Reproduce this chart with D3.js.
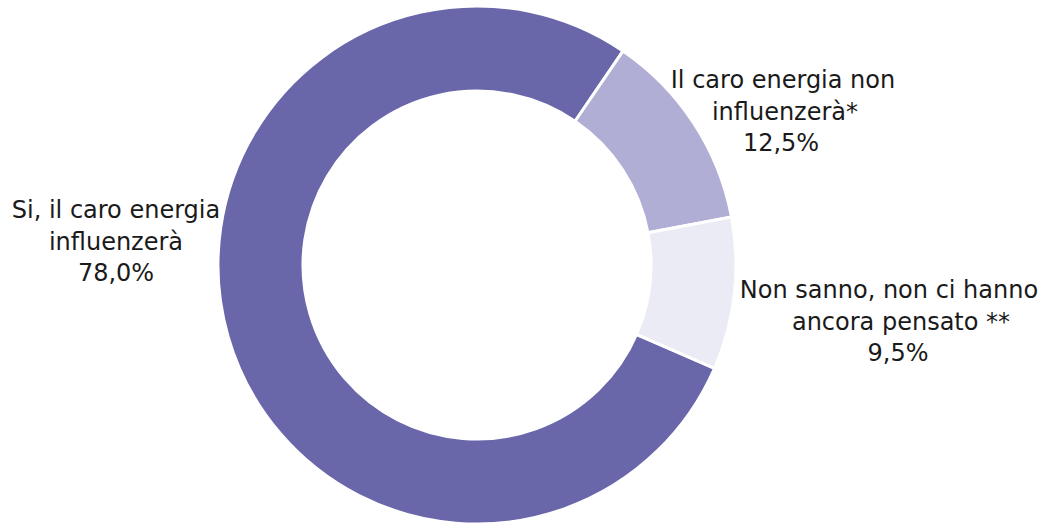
<!DOCTYPE html>
<html>
<head>
<meta charset="utf-8">
<script src="https://cdn.jsdelivr.net/npm/d3@7"></script>
<style>
  html, body { margin: 0; padding: 0; background: #ffffff; }
  svg { display: block; }
  text { font-family: "DejaVu Sans", Verdana, sans-serif; font-size: 24px; fill: #1a1a1a; }
</style>
</head>
<body>
<svg id="chart" width="1043" height="526"></svg>
<script>
// Data
const categories = ["Si, il caro energia influenzerà", "Il caro energia non influenzerà*", "Non sanno, non ci hanno ancora pensato**"];
const values = [78.0, 12.5, 9.5];
const valueLabels = ["78,0%", "12,5%", "9,5%"];
const labelLines = [
  ["Si, il caro energia", "influenzerà", "78,0%"],
  ["Il caro energia non", "influenzerà*", "12,5%"],
  ["Non sanno, non ci hanno", "ancora pensato **", "9,5%"]
];
const colors = ["#6966aa", "#b0aed5", "#ebebf5"];

// Layout
const cx = 477, cy = 265, outerR = 259, innerR = 174;
const startDeg = 113.5;
const labelPos = [
  {x: 116, y: 218, dx: [0, 0, 0]},
  {x: 783, y: 88, dx: [0, 2, -2]},
  {x: 889, y: 298, dx: [0, 12, 9]}
];
const lineH = 31.5;

const svg = d3.select("#chart");
const g = svg.append("g").attr("transform", `translate(${cx},${cy})`);

const pie = d3.pie()
  .value(d => d)
  .sort(null)
  .startAngle(startDeg * Math.PI / 180)
  .endAngle((startDeg + 360) * Math.PI / 180);

const arc = d3.arc().innerRadius(innerR).outerRadius(outerR);

g.selectAll("path.slice")
  .data(pie(values))
  .join("path")
  .attr("class", "slice")
  .attr("d", arc)
  .attr("fill", (d, i) => colors[i])
  .attr("stroke", "#ffffff")
  .attr("stroke-width", 3)
  .attr("stroke-linejoin", "miter");

const labels = svg.selectAll("text.lbl")
  .data(labelLines)
  .join("text")
  .attr("class", "lbl")
  .attr("text-anchor", "middle")
  .attr("x", (d, i) => labelPos[i].x)
  .attr("y", (d, i) => labelPos[i].y);

labels.each(function(lines, i) {
  d3.select(this).selectAll("tspan")
    .data(lines)
    .join("tspan")
    .attr("x", (d, j) => labelPos[i].x + labelPos[i].dx[j])
    .attr("dy", (d, j) => j === 0 ? 0 : lineH)
    .text(d => d);
});
</script>
</body>
</html>
